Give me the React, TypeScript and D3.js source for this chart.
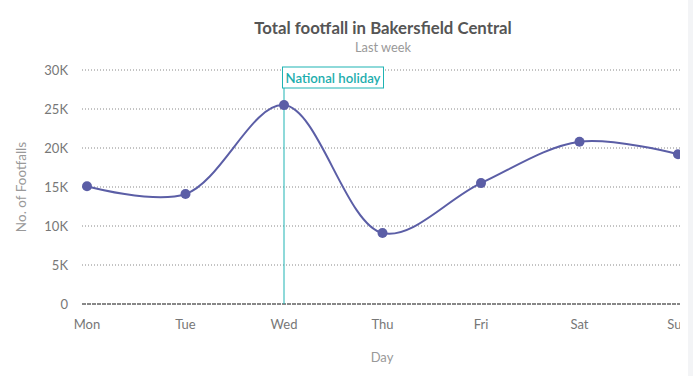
import React from "react";
import * as d3 from "d3";

const days = ["Mon", "Tue", "Wed", "Thu", "Fri", "Sat", "Sun"];
const footfalls = [15100, 14100, 25500, 9100, 15500, 20800, 19200];
const yTicks = [0, 5000, 10000, 15000, 20000, 25000, 30000];
const annotationDay = "Wed";
const annotationText = "National holiday";

const W = 693;
const H = 376;
const FONT = "Lato, 'Open Sans', sans-serif";

export default function App() {
  const x = d3.scalePoint<string>().domain(days).range([87, 678]);
  const y = d3.scaleLinear().domain([0, 30000]).range([304, 70]);
  const line = d3
    .line<number>()
    .x((_, i) => x(days[i]) as number)
    .y((d) => y(d))
    .curve(d3.curveCatmullRom.alpha(0.5));
  const fmt = (v: number) => (v === 0 ? "0" : `${v / 1000}K`);
  const ax = x(annotationDay) as number;

  return (
    <svg
      width={W}
      height={H}
      style={{ position: "fixed", left: 0, top: 0, background: "#fff" }}
    >
      <defs>
        <clipPath id="clip">
          <rect x={0} y={0} width={680} height={H} />
        </clipPath>
      </defs>
      <rect x={688} y={0} width={5} height={H} fill="#f3f4f6" />
      <g clipPath="url(#clip)" fontFamily={FONT}>
        <text x={383} y={34} textAnchor="middle" fontSize={16.8} fontWeight={700} fill="#555">
          Total footfall in Bakersfield Central
        </text>
        <text x={383} y={52} textAnchor="middle" fontSize={12.8} fill="#999">
          Last week
        </text>
        {yTicks.map((t) => (
          <g key={t}>
            {t !== 0 && (
              <line
                x1={82}
                x2={690}
                y1={y(t)}
                y2={y(t)}
                stroke="#888"
                strokeWidth={1}
                strokeDasharray="1,2"
              />
            )}
            <text x={68} y={y(t) + 4.5} textAnchor="end" fontSize={13} fill="#777">
              {fmt(t)}
            </text>
          </g>
        ))}
        <line x1={82} x2={690} y1={y(0)} y2={y(0)} stroke="#111" strokeWidth={1} strokeDasharray="4,1" />
        {days.map((d) => (
          <text key={d} x={x(d) as number} y={329} textAnchor="middle" fontSize={13} fill="#777">
            {d}
          </text>
        ))}
        <text x={382} y={362} textAnchor="middle" fontSize={13} fill="#999">
          Day
        </text>
        <text
          transform={`translate(26,187) rotate(-90)`}
          textAnchor="middle"
          fontSize={13.5}
          fill="#999"
        >
          No. of Footfalls
        </text>
        <line x1={ax} x2={ax} y1={88} y2={y(0)} stroke="#1fb3b3" strokeWidth={1} />
        <rect x={ax - 1.5} y={67} width={101} height={21} fill="#fff" stroke="#1fb3b3" strokeWidth={1} />
        <text x={ax + 49} y={82.5} textAnchor="middle" fontSize={13.2} fontWeight={600} fill="#1cadad">
          {annotationText}
        </text>
        <path d={line(footfalls) || ""} fill="none" stroke="#5b5ea6" strokeWidth={2} />
        {footfalls.map((v, i) => (
          <circle key={i} cx={x(days[i]) as number} cy={y(v)} r={5} fill="#5b5ea6" />
        ))}
      </g>
    </svg>
  );
}
